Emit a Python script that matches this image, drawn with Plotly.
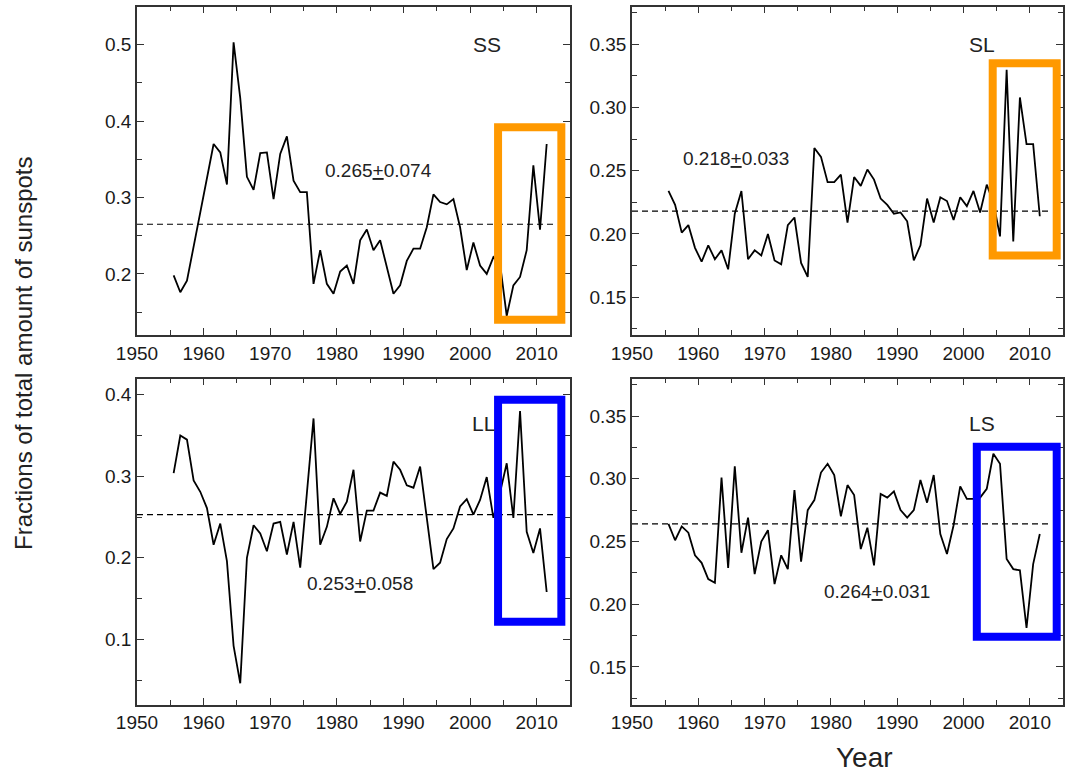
import plotly.graph_objects as go

# ---- data (annual values, 1955..2011, plotted at mid-year) ----
years = list(range(1955, 2012))

ss = [0.198, 0.176, 0.191, 0.235, 0.283, 0.324, 0.370, 0.359, 0.317, 0.503,
      0.430, 0.327, 0.310, 0.358, 0.359, 0.298, 0.357, 0.380, 0.322, 0.307,
      0.307, 0.187, 0.231, 0.187, 0.174, 0.203, 0.211, 0.187, 0.244, 0.258,
      0.231, 0.244, 0.209, 0.174, 0.185, 0.217, 0.233, 0.233, 0.261, 0.304,
      0.294, 0.291, 0.298, 0.261, 0.205, 0.241, 0.211, 0.200, 0.222, 0.213,
      0.145, 0.185, 0.196, 0.231, 0.342, 0.258, 0.370]

sl = [0.234, 0.223, 0.201, 0.207, 0.189, 0.178, 0.191, 0.180, 0.187, 0.172,
      0.216, 0.234, 0.180, 0.187, 0.183, 0.200, 0.179, 0.176, 0.207, 0.213,
      0.177, 0.166, 0.268, 0.261, 0.241, 0.241, 0.247, 0.209, 0.245, 0.238,
      0.251, 0.243, 0.228, 0.223, 0.216, 0.217, 0.210, 0.179, 0.191, 0.228,
      0.209, 0.229, 0.226, 0.211, 0.229, 0.222, 0.234, 0.217, 0.239, 0.225,
      0.198, 0.330, 0.194, 0.308, 0.271, 0.271, 0.214]

ll = [0.304, 0.350, 0.345, 0.295, 0.281, 0.261, 0.216, 0.242, 0.196, 0.092,
      0.046, 0.200, 0.240, 0.230, 0.208, 0.242, 0.244, 0.204, 0.244, 0.188,
      0.279, 0.371, 0.216, 0.238, 0.273, 0.254, 0.269, 0.308, 0.220, 0.258,
      0.258, 0.280, 0.276, 0.318, 0.308, 0.289, 0.286, 0.312, 0.249, 0.186,
      0.194, 0.223, 0.236, 0.263, 0.272, 0.253, 0.271, 0.299, 0.249, 0.280,
      0.316, 0.249, 0.380, 0.232, 0.206, 0.236, 0.158]

ls = [0.264, 0.251, 0.262, 0.257, 0.239, 0.233, 0.220, 0.217, 0.301, 0.229,
      0.310, 0.241, 0.269, 0.224, 0.250, 0.259, 0.216, 0.239, 0.228, 0.291,
      0.234, 0.275, 0.283, 0.305, 0.312, 0.303, 0.270, 0.295, 0.287, 0.244,
      0.261, 0.231, 0.288, 0.285, 0.290, 0.275, 0.269, 0.275, 0.299, 0.281,
      0.303, 0.256, 0.240, 0.263, 0.294, 0.284, 0.284, 0.285, 0.292, 0.320,
      0.312, 0.236, 0.228, 0.227, 0.181, 0.232, 0.256]

labels = ["SS", "SL", "LL", "LS"]
means = [0.265, 0.218, 0.253, 0.264]
stds = [0.074, 0.033, 0.058, 0.031]
series = [ss, sl, ll, ls]

xticks = [1950, 1960, 1970, 1980, 1990, 2000, 2010]

# ---- figure ----
x_mid = [y + 0.5 for y in years]
fig = go.Figure()

axes = [("x", "y"), ("x2", "y2"), ("x3", "y3"), ("x4", "y4")]
for (xa, ya), vals, m in zip(axes, series, means):
    fig.add_trace(go.Scatter(x=x_mid, y=vals, mode="lines", xaxis=xa, yaxis=ya,
                             line=dict(color="black", width=1.8), showlegend=False,
                             hoverinfo="skip"))
    fig.add_trace(go.Scatter(x=[1950, 2013], y=[m, m], mode="lines", xaxis=xa, yaxis=ya,
                             line=dict(color="black", width=1.2, dash="6px,4px"),
                             showlegend=False, hoverinfo="skip"))

FONT = "Liberation Sans, Arial, sans-serif"
common = dict(showline=True, linecolor="#333", linewidth=1.5, mirror="allticks",
              ticks="inside", ticklen=7, tickwidth=1.3, tickcolor="#333",
              showgrid=False, zeroline=False, automargin=False,
              tickfont=dict(family=FONT, size=19, color="#1a1a1a"))

def xaxis(domain, anchor):
    return dict(common, domain=domain, anchor=anchor, range=[1950, 2015],
                tickvals=xticks, ticklabelstandoff=0,
                minor=dict(ticks="inside", ticklen=5, tickcolor="#333", tickwidth=1.2, dtick=5, tick0=1955))

def yaxis(domain, anchor, rng, dt, fmt):
    return dict(common, domain=domain, anchor=anchor, range=rng, dtick=dt, tick0=0,
                tickformat=fmt, ticklabelstandoff=0,
                minor=dict(ticks="inside", ticklen=5, tickcolor="#333", tickwidth=1.2, dtick=dt / 2, tick0=0))

W, H = 1068, 773
xl = [137 / W, 570 / W]
xr = [632 / W, 1063 / W]
yt = [1 - 335 / H, 1 - 6.5 / H]
yb = [1 - 704.5 / H, 1 - 378.5 / H]

fig.update_layout(
    width=W, height=H,
    margin=dict(l=0, r=0, t=0, b=0, pad=0, autoexpand=False),
    paper_bgcolor="white", plot_bgcolor="white",
    xaxis=xaxis(xl, "y"), yaxis=yaxis(yt, "x", [0.12, 0.55], 0.1, ".1f"),
    xaxis2=xaxis(xr, "y2"), yaxis2=yaxis(yt, "x2", [0.12, 0.38], 0.05, ".2f"),
    xaxis3=xaxis(xl, "y3"), yaxis3=yaxis(yb, "x3", [0.02, 0.42], 0.1, ".1f"),
    xaxis4=xaxis(xr, "y4"), yaxis4=yaxis(yb, "x4", [0.12, 0.38], 0.05, ".2f"),
)

# highlight boxes
boxes = [("x", "y", 2004.2, 2013.7, 0.140, 0.392, "#FF9900"),
         ("x2", "y2", 2004.4, 2014.05, 0.183, 0.335, "#FF9900"),
         ("x3", "y3", 2004.2, 2013.7, 0.1215, 0.394, "#0000FF"),
         ("x4", "y4", 2002.0, 2014.05, 0.174, 0.3255, "#0000FF")]
for xa, ya, x0, x1, y0, y1, c in boxes:
    fig.add_shape(type="rect", xref=xa, yref=ya, x0=x0, x1=x1, y0=y0, y1=y1,
                  line=dict(color=c, width=8), fillcolor="rgba(0,0,0,0)", layer="above")

# panel labels and mean +- std texts
label_pos = [(2002.6, 0.500), (2002.8, 0.350), (2002.0, 0.365), (2002.8, 0.344)]
stat_pos = [(1986.2, 0.335), (1965.7, 0.260), (1983.5, 0.168), (1987.0, 0.210)]
for (xa, ya), lab, (lx, ly), (sx, sy), m, s in zip(axes, labels, label_pos, stat_pos, means, stds):
    fig.add_annotation(x=lx, y=ly, xref=xa, yref=ya, text=lab, showarrow=False,
                       xanchor="center", yanchor="middle",
                       font=dict(family=FONT, size=21, color="#222"))
    fig.add_annotation(x=sx, y=sy, xref=xa, yref=ya,
                       text=f"{m:.3f}<u>+</u>{s:.3f}", showarrow=False,
                       xanchor="center", yanchor="middle",
                       font=dict(family=FONT, size=19, color="#222"))

fig.add_annotation(x=23 / W, y=1 - 353 / H, xref="paper", yref="paper",
                   text="Fractions of total amount of sunspots", textangle=-90,
                   xanchor="center", yanchor="middle",
                   showarrow=False, font=dict(family=FONT, size=24, color="#222"))
fig.add_annotation(x=864 / W, y=1 - 757 / H, xref="paper", yref="paper",
                   text="Year", showarrow=False, xanchor="center", yanchor="middle",
                   font=dict(family=FONT, size=28, color="#222"))

fig.write_html("out.html")
